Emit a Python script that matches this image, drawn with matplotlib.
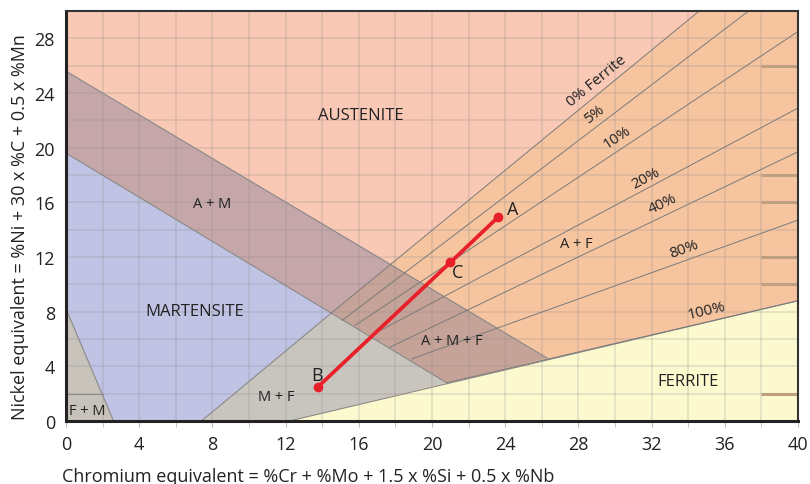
import numpy as np
import matplotlib
matplotlib.use("Agg")
import matplotlib.pyplot as plt

plt.rcParams['font.family'] = ['Open Sans', 'DejaVu Sans']

# ---- data (Cr-eq, Ni-eq) ----
austenite_color = '#F9C9B5'
# region polygons
martensite = [(0, 19.6), (14.5, 7.9), (7.4, 0), (2.6, 0), (0, 8.2)]
fm_region = [(0, 8.2), (2.6, 0), (0, 0)]
mf_region = [(7.4, 0), (14.5, 7.9), (20.8, 2.8), (12.2, 0)]
af_region = [(14.5, 7.9), (34.6, 30), (40, 30), (40, 8.8), (20.8, 2.8)]
ferrite = [(12.2, 0), (40, 8.8), (40, 0)]
am_region = [(0, 25.6), (17.76, 11.48), (14.5, 7.9), (0, 19.6)]
amf_region = [(17.76, 11.48), (26.3, 4.6), (20.8, 2.8), (14.5, 7.9)]

# boundary lines
boundaries = [
    [(0, 25.6), (26.3, 4.6)],
    [(0, 19.6), (20.8, 2.8)],
    [(7.4, 0), (14.5, 7.9)],
    [(0, 8.2), (2.6, 0)],
    [(12.2, 0), (40, 8.8)],
    [(0, 2), (2, 2)],
]

# ferrite iso-lines
ferrite_pct = ['0% Ferrite', '5%', '10%', '20%', '40%', '80%', '100%']
ferrite_start = [(14.5, 7.9), (15.1, 7.37), (15.8, 7.0), (17.0, 6.5), (17.7, 5.4), (18.9, 4.55), (20.8, 2.8)]
ferrite_end = [(34.6, 30), (37.3, 30), (40, 28.5), (40, 22.9), (40, 19.7), (40, 14.7), (40, 8.8)]
ferrite_label_pos = [(29.0, 24.9), (28.9, 22.5), (30.1, 20.8), (31.7, 17.8), (32.6, 15.9), (33.8, 12.6), (35.0, 8.1)]

region_labels = ['AUSTENITE', 'A + M', 'MARTENSITE', 'F + M', 'M + F', 'A + M + F', 'A + F', 'FERRITE']
region_pos = [(16.1, 22.4), (8.0, 15.9), (7.05, 8.07), (1.15, 0.8), (11.5, 1.76), (21.1, 5.9), (27.9, 13.0), (34.0, 2.9)]
region_size = [12, 10.5, 12, 10.5, 10.5, 10.5, 10.5, 12]

# weld path
path_names = ['B', 'C', 'A']
path_cr = [13.77, 21.0, 23.6]
path_ni = [2.5, 11.6, 14.9]
path_label_pos = [(13.7, 3.4), (21.4, 10.9), (24.4, 15.5)]

right_marks = [26, 18, 16, 12, 10, 2]

fig = plt.figure(figsize=(8.1, 4.85), dpi=100)
ax = fig.add_axes([66/810, 1-422/485, 732/810, 410/485])
ax.set_xlim(0, 40)
ax.set_ylim(0, 30)
ax.set_facecolor(austenite_color)

def poly(pts, color, z=1):
    xs, ys = zip(*pts)
    ax.fill(xs, ys, color=color, lw=0, zorder=z)

poly(af_region, '#F6C5A0')
poly(martensite, '#C0C3E3')
poly(fm_region, '#C7C3BB')
poly(mf_region, '#C8C5BE')
poly(ferrite, '#FCF9CF')
poly(am_region, '#C5A6A9')
poly(amf_region, '#C6A398')

# grid
for g in np.arange(2, 40, 2):
    ax.axvline(g, color='#8c8c8c', alpha=0.22, lw=1.3, zorder=2)
for g in np.arange(2, 30, 2):
    ax.axhline(g, color='#8c8c8c', alpha=0.22, lw=1.3, zorder=2)

for y in right_marks:
    ax.plot([38, 40], [y, y], color='#BE9F82', lw=2.2, zorder=3, solid_capstyle='butt')

for seg in boundaries:
    xs, ys = zip(*seg)
    ax.plot(xs, ys, color='#8a8a8a', lw=0.8, zorder=4)

for s, e in zip(ferrite_start, ferrite_end):
    ax.plot([s[0], e[0]], [s[1], e[1]], color='#7a7a7a', lw=0.7, zorder=4)

fig.canvas.draw()
for lab, s, e, p in zip(ferrite_pct, ferrite_start, ferrite_end, ferrite_label_pos):
    ang = np.degrees(np.arctan2(e[1]-s[1], e[0]-s[0]))
    rot = ax.transData.transform_angles(np.array([ang]), np.array([s]))[0]
    ax.text(p[0], p[1], lab, rotation=rot, rotation_mode='anchor', ha='center', va='center',
            fontsize=11, color='#222222', zorder=6)

for lab, p, fs in zip(region_labels, region_pos, region_size):
    ax.text(p[0], p[1], lab, ha='center', va='center', fontsize=fs, color='#222222', zorder=6)

ax.plot(path_cr, path_ni, color='#E8202A', lw=2.7, zorder=7)
ax.plot([path_cr[0], path_cr[1], path_cr[2]], [path_ni[0], path_ni[1], path_ni[2]], 'o',
        color='#E8202A', ms=6, zorder=8)
for n, p in zip(path_names, path_label_pos):
    ax.text(p[0], p[1], n, ha='center', va='center', fontsize=13, color='#222222', zorder=8)

ax.set_xticks(np.arange(0, 41, 4))
ax.set_yticks(np.arange(0, 29, 4))
ax.set_xticks(np.arange(0, 41, 2), minor=True)
ax.tick_params(axis='both', which='both', labelsize=13, colors='#222222')
ax.tick_params(axis='x', which='both', length=4, color='#bbbbbb', pad=6)
ax.tick_params(axis='y', which='both', length=0, pad=8)
for side in ['left', 'bottom']:
    ax.spines[side].set_linewidth(2.2)
    ax.spines[side].set_color('#222222')
for side in ['top', 'right']:
    ax.spines[side].set_linewidth(1.5)
    ax.spines[side].set_color('#333333')
for sp in ax.spines.values():
    sp.set_zorder(10)

fig.text(62/810, 1-477/485, 'Chromium equivalent = %Cr + %Mo + 1.5 x %Si + 0.5 x %Nb',
         ha='left', va='center', fontsize=13, color='#222222')
fig.text(20/810, 1-227/485, 'Nickel equivalent = %Ni + 30 x %C + 0.5 x %Mn',
         ha='center', va='center', rotation=90, fontsize=13, color='#222222')

fig.savefig('out.png', dpi=100)
